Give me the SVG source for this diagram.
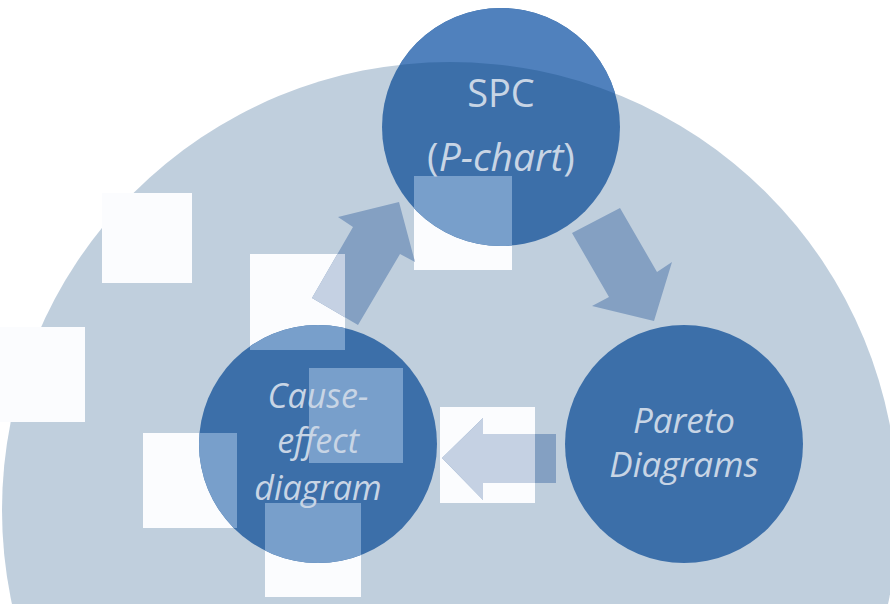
<svg xmlns="http://www.w3.org/2000/svg" width="890" height="604" viewBox="0 0 890 604">
<style>
.sq{fill:#fbfcfe}
.arr{fill:#84a0c2}
.arrL{fill:#c5d1e3}
.node{fill:#3c6fa9}
.nodeL{fill:#789fcb}
.lbl{fill:#c8d5e5;font-family:"Open Sans","Noto Sans",sans-serif;text-anchor:middle}
.it{font-style:italic}
</style>
<defs>
<clipPath id="sqclip">
<rect x="102" y="193" width="90" height="90"/>
<rect x="250" y="254" width="95" height="96"/>
<rect x="414" y="176" width="98" height="94"/>
<rect x="-5" y="327" width="90" height="95"/>
<rect x="143" y="433" width="94" height="95"/>
<rect x="265" y="503" width="96" height="94"/>
<rect x="309" y="368" width="94" height="95"/>
<rect x="440" y="407" width="95" height="96"/>
</clipPath>
<clipPath id="outbg">
<path clip-rule="evenodd" d="M-10,-10 H900 V620 H-10 Z M2,510 a448,448 0 1,0 896,0 a448,448 0 1,0 -896,0 Z"/>
</clipPath>
<polygon id="a1" points="312,298 353,227 338,217 399,202 415,262 400,254 358,325"/>
<polygon id="a2" points="572,233 620,208 657,272 672,262 654,321 592,306 609,297"/>
<polygon id="a3" points="442,458 483,418 483,434 556,434 556,483 483,483 483,500"/>
</defs>
<g id="background">
<circle cx="450" cy="510" r="448" fill="#c0cfdd"/>
<g class="sq">
<rect x="102" y="193" width="90" height="90"/>
<rect x="250" y="254" width="95" height="96"/>
<rect x="414" y="176" width="98" height="94"/>
<rect x="-5" y="327" width="90" height="95"/>
<rect x="143" y="433" width="94" height="95"/>
<rect x="265" y="503" width="96" height="94"/>
<rect x="309" y="368" width="94" height="95"/>
<rect x="440" y="407" width="95" height="96"/>
</g>
</g>
<g id="connectors">
<use href="#a1" class="arr"/>
<use href="#a2" class="arr"/>
<use href="#a3" class="arr"/>
<g clip-path="url(#sqclip)">
<use href="#a1" class="arrL"/>
<use href="#a3" class="arrL"/>
</g>
</g>
<g id="node-spc">
<circle class="node" cx="501" cy="127" r="119"/>
<circle cx="501" cy="127" r="119" fill="#5081bd" clip-path="url(#outbg)"/>
<circle class="nodeL" cx="501" cy="127" r="119" clip-path="url(#sqclip)"/>
<text class="lbl" x="501" y="107" font-size="38">SPC</text>
<text class="lbl" x="501" y="171" font-size="39">(<tspan class="it">P-chart</tspan>)</text>
</g>
<g id="node-cause">
<circle class="node" cx="318" cy="444" r="119"/>
<circle class="nodeL" cx="318" cy="444" r="119" clip-path="url(#sqclip)"/>
<text class="lbl it" font-size="34"><tspan x="318" y="408">Cause-</tspan><tspan x="318" y="453">effect</tspan><tspan x="318" y="500">diagram</tspan></text>
</g>
<g id="node-pareto">
<circle class="node" cx="684" cy="444" r="119"/>
<text class="lbl it" font-size="35"><tspan x="684" y="433">Pareto</tspan><tspan x="684" y="477">Diagrams</tspan></text>
</g>
</svg>
